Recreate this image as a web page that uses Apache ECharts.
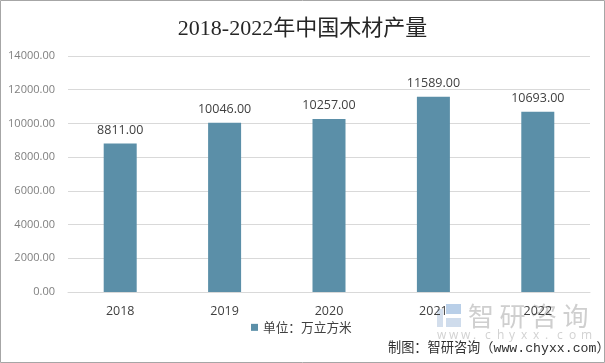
<!DOCTYPE html>
<html><head><meta charset="utf-8">
<style>html,body{margin:0;padding:0;background:#fff}#c{width:605px;height:363px}</style>
<script src="https://cdn.jsdelivr.net/npm/echarts@6/dist/echarts.min.js"></script>
</head><body><div id="c"></div>
<script>
const categories = ['2018','2019','2020','2021','2022'];
const values = [8811, 10046, 10257, 11589, 10693];
const seriesName = '单位：万立方米';
const titleText = '2018-2022年中国木材产量';
const sourceText = '制图：智研咨询（www.chyxx.com）';
const markChars = ['智','研','咨','询'];
const markUrl = 'www.chyxx.com'.split('');
const sans = '"Noto Sans CJK SC","Open Sans",sans-serif';
const chart = echarts.init(document.getElementById('c'), null, {renderer:'canvas'});
chart.setOption({
  animation:false,
  backgroundColor:'#fff',
  title:{text:titleText,left:'center',top:13,itemGap:0,
    textStyle:{fontFamily:'"Liberation Serif","Noto Sans CJK SC",serif',fontSize:22,fontWeight:'normal',color:'#262626'}},
  grid:{left:68,right:15,top:56,bottom:71,containLabel:false},
  legend:{data:[seriesName],left:246,top:316,itemWidth:7,itemHeight:7,itemGap:4,icon:'rect',
    textStyle:{fontFamily:sans,fontSize:12.7,color:'#404040'}},
  xAxis:{type:'category',data:categories,
    axisLine:{lineStyle:{color:'#d9d9d9',width:1}},axisTick:{show:false},
    axisLabel:{color:'#404040',fontSize:12.5,margin:13,fontFamily:'"Open Sans",sans-serif'}},
  yAxis:{type:'value',min:0,max:14000,interval:2000,
    axisLine:{show:false},axisTick:{show:false},
    splitLine:{lineStyle:{color:'#d9d9d9',width:1}},
    axisLabel:{color:'#7f7f7f',fontSize:11,margin:13,fontFamily:'"Open Sans",sans-serif',formatter:v=>v.toFixed(2)}},
  series:[{name:seriesName,type:'bar',data:values,barWidth:33,
    itemStyle:{color:'#5b8fa8'},
    label:{show:true,position:'top',distance:7,color:'#404040',fontSize:12.5,fontFamily:'"Open Sans",sans-serif',formatter:p=>p.value.toFixed(2)}}],
  graphic:[
    {type:'rect',z:-1,shape:{x:0.5,y:0.5,width:604,height:362},style:{fill:'none',stroke:'#a6a6a6',lineWidth:1}},
    {type:'group',z:1,silent:true,children:[
      {type:'rect',shape:{x:437,y:309,width:6,height:18},style:{fill:'#d3deec'}},
      {type:'rect',shape:{x:446,y:304,width:15,height:10},style:{fill:'#b9cfe8'}},
      {type:'rect',shape:{x:446,y:318,width:15,height:9},style:{fill:'#cfdcec'}},
      ...markChars.map((ch,i)=>({type:'text',style:{x:468+i*31.5,y:303,text:ch,fill:'#cfcfcf',font:'26px "Noto Sans CJK SC"'}})),
      ...markUrl.map((ch,i)=>({type:'text',style:{x:437+i*12,y:330,text:ch,fill:'#d2d2d2',font:'12px "Open Sans"'}}))
    ]},
    {type:'text',z:60,style:{x:388,y:342,text:sourceText,fill:'#303030',font:'13.2px "Liberation Mono","Noto Sans CJK SC"'}}
  ]
});
</script></body></html>
